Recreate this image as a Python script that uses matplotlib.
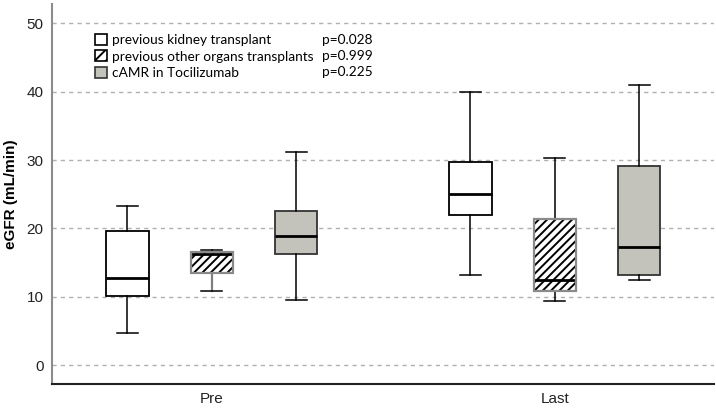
import matplotlib.pyplot as plt
from matplotlib.patches import Patch, Rectangle

plt.rcParams['hatch.linewidth'] = 1.4

groups = ["Pre", "Last"]
series = ["previous kidney transplant", "previous other organs transplants", "cAMR in Tocilizumab"]
p_values = ["p=0.028", "p=0.999", "p=0.225"]

# box stats per series: [Pre, Last] -> (whislo, q1, med, q3, whishi)
kidney = [(4.7, 10.2, 12.7, 19.7, 23.3), (13.25, 22.0, 25.1, 29.7, 40.0)]
other_organs = [(10.8, 13.45, 16.3, 16.5, 16.85), (9.4, 10.9, 12.4, 21.4, 30.3)]
tocilizumab = [(9.5, 16.2, 18.95, 22.5, 31.2), (12.5, 13.25, 17.25, 29.1, 40.9)]

styles = [
    dict(face="white", edge="black", hatch=None, outline=None),
    dict(face="white", edge="black", hatch="////", outline="#8a8a8a"),
    dict(face="#c3c3bc", edge="#333333", hatch=None, outline=None),
]

fig = plt.figure(figsize=(7.16, 4.08), dpi=100)
ax = fig.add_axes([52 / 716, 24 / 408, 662 / 716, 380 / 408])

offsets = [-0.246, 0.0, 0.246]
width = 0.123
for k, data in enumerate([kidney, other_organs, tocilizumab]):
    st = styles[k]
    stats = []
    for g, (lo, q1, med, q3, hi) in enumerate(data):
        stats.append(dict(whislo=lo, q1=q1, med=med, q3=q3, whishi=hi, fliers=[], label=groups[g]))
    pos = [g + 1 + offsets[k] for g in range(len(groups))]
    bp = ax.bxp(stats, positions=pos, widths=width, patch_artist=True, showfliers=False,
                boxprops=dict(facecolor=st["face"], edgecolor=st["edge"], linewidth=1.3, hatch=st["hatch"]),
                medianprops=dict(color="black", linewidth=2.0),
                whiskerprops=dict(color="black", linewidth=1.1),
                capprops=dict(color="black", linewidth=1.1))
    if st["outline"]:
        # gray box outline on top of the black hatch
        for p, s in zip(pos, stats):
            ax.add_patch(Rectangle((p - width / 2, s["q1"]), width, s["q3"] - s["q1"],
                                   fill=False, edgecolor=st["outline"], linewidth=1.6, zorder=2.5))
        bp["whiskers"][0].set_color("#7f7f7f")
        bp["whiskers"][0].set_linewidth(1.6)

ax.set_xlim(0.534, 2.464)
ax.set_ylim(-2.73, 52.8)
ax.set_yticks(range(0, 51, 10))
ax.set_xticks([1, 2])
ax.set_xticklabels(groups, fontsize=11, family="Liberation Sans", color="#222222")
for lbl in ax.get_yticklabels():
    lbl.set_fontsize(11)
    lbl.set_family("Liberation Sans")
    lbl.set_color("#222222")
ax.tick_params(axis="both", length=0, pad=6)
ax.grid(axis="y", linestyle=(0, (3, 3)), color="#b0b0b0", linewidth=1)
ax.set_axisbelow(True)
for s in ["top", "right"]:
    ax.spines[s].set_visible(False)
ax.spines["left"].set_color("#8c8c8c")
ax.spines["left"].set_linewidth(1.5)
ax.spines["bottom"].set_color("#222222")
ax.spines["bottom"].set_linewidth(1.5)
ax.set_ylabel("eGFR (mL/min)", fontsize=11, fontweight="bold", family="Liberation Sans")
ax.yaxis.set_label_coords(-0.052, 0.5)

handles = [Patch(facecolor="white", edgecolor="black", linewidth=1.2),
           Patch(facecolor="white", edgecolor="black", hatch="///", linewidth=1.2),
           Patch(facecolor="#c3c3bc", edgecolor="#333333", linewidth=1.2)]
leg = ax.legend(handles, series, loc="upper left", bbox_to_anchor=(0.057, 0.936), frameon=False,
                handlelength=0.9, handleheight=0.9, handletextpad=0.3, labelspacing=0.3,
                prop=dict(family="Lato", size=9.8), borderaxespad=0)
for i, p in enumerate(p_values):
    ax.text(322 / 100, (408 - 40.5 - i * 15.6) / 100, p, transform=fig.dpi_scale_trans,
            fontsize=9.8, family="Lato", va="center")

fig.savefig("out.png", dpi=100)
